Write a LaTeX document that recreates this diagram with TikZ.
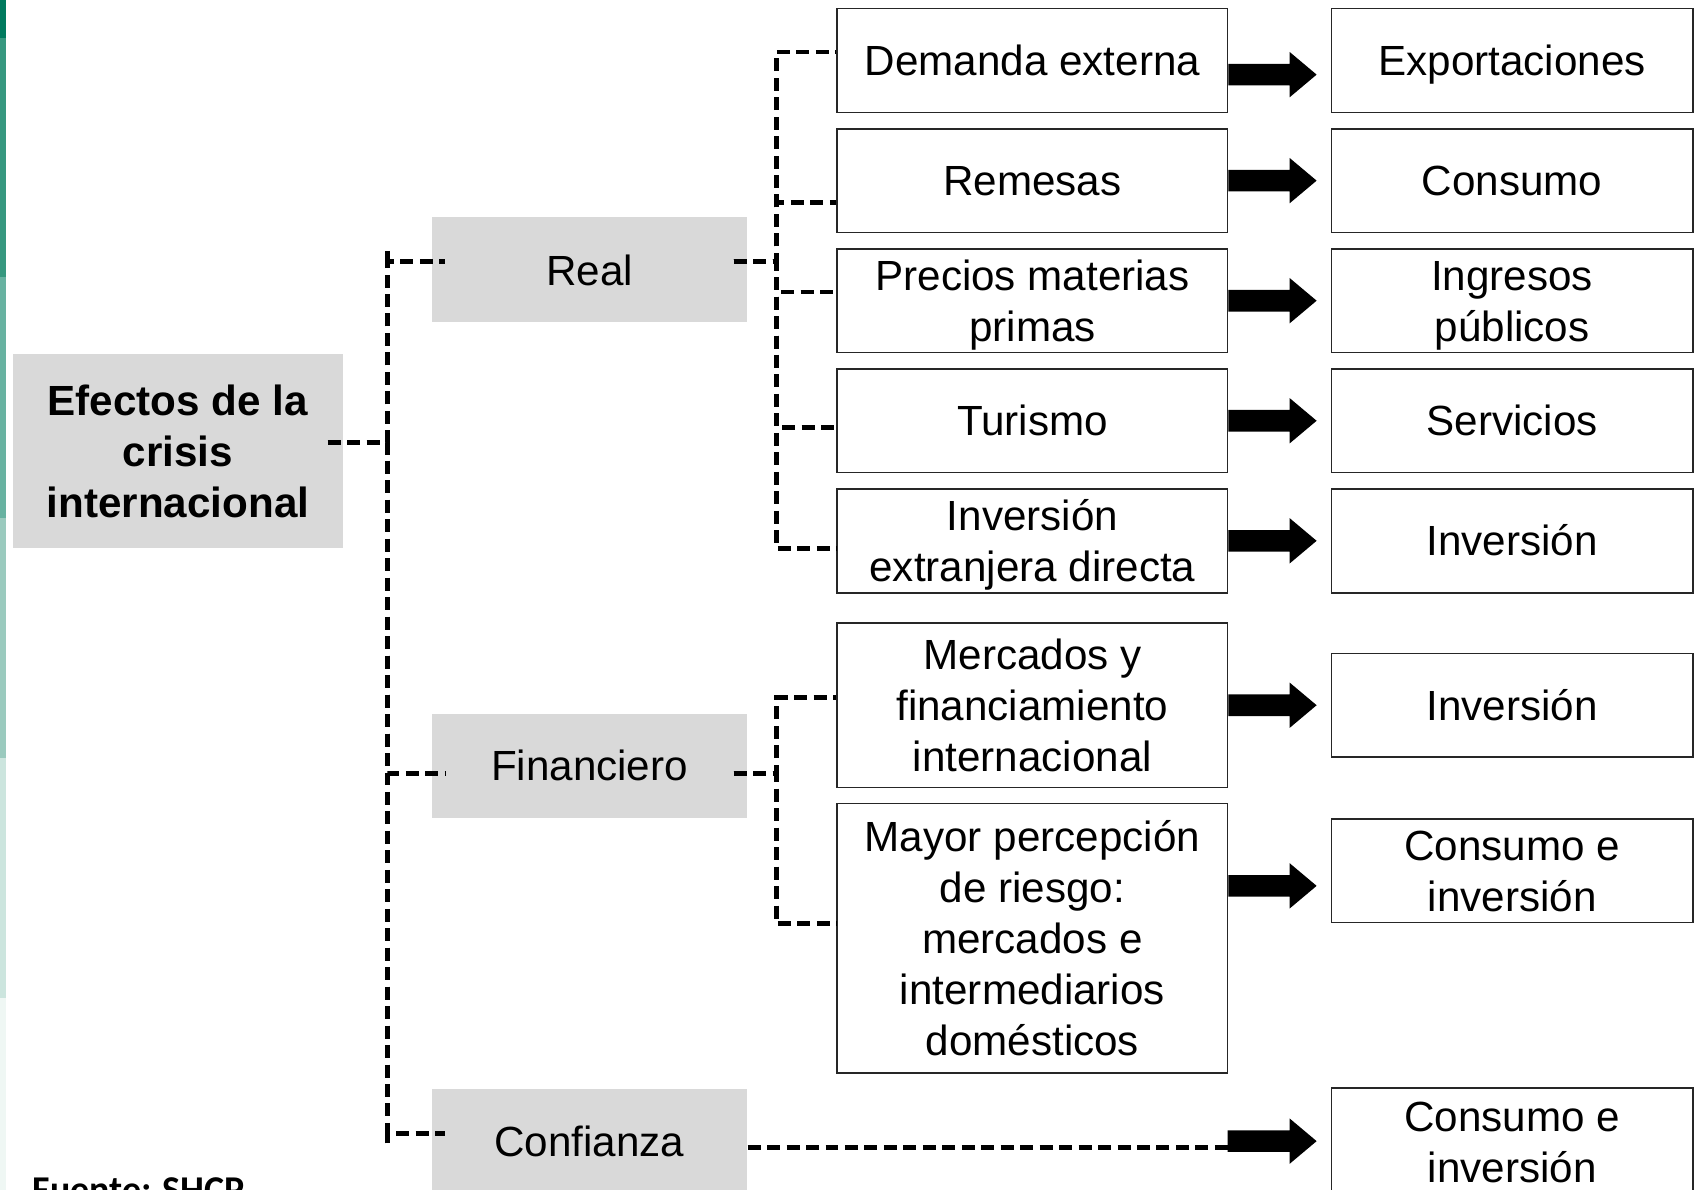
\documentclass[tikz,border=0pt]{standalone}
\usepackage{fontspec}
\setmainfont{Liberation Sans}
\newfontfamily\srcfont{Carlito}
\usetikzlibrary{calc}
\definecolor{boxgray}{HTML}{D9D9D9}
\definecolor{gA}{HTML}{007A5E}
\definecolor{gB}{HTML}{36987F}
\definecolor{gC}{HTML}{67B2A1}
\definecolor{gD}{HTML}{9ACABE}
\definecolor{gE}{HTML}{CCE5DE}
\definecolor{gF}{HTML}{EFF7F4}
\newcommand\mainfs{\fontsize{39}{47}\selectfont}
\newcommand\blockarr[2]{\fill ($(#1)+(0,-10)$) -- ($(#2)+(-25,-10)$) -- ($(#2)+(-25,-21)$) -- (#2) -- ($(#2)+(-25,21)$) -- ($(#2)+(-25,10)$) -- ($(#1)+(0,10)$) -- cycle;}
\tikzset{
  gbox/.style={fill=boxgray, inner sep=0pt, minimum width=292pt, minimum height=97pt, align=center, text height=28pt, text depth=0pt, font=\mainfs},
  wbox/.style={draw=black!85, line width=1.5pt, fill=white, inner sep=0pt, align=center, text height=28pt, text depth=0pt, font=\mainfs},
  midbox/.style={wbox, minimum width=361pt},
  rbox/.style={wbox, minimum width=334pt},
  twol/.style={text height=75pt},
  threel/.style={text height=122pt},
  fivel/.style={text height=216pt},
  conn/.style={line width=4.2pt, dash pattern=on 12pt off 6pt},
}
\begin{document}
\begin{tikzpicture}[x=1pt,y=-1pt]
\useasboundingbox (0,0) rectangle (1568,1100);
\fill[white] (0,0) rectangle (1568,1100);
% green side bar
\fill[gA] (0,0) rectangle (5.5,35);
\fill[gB] (0,35) rectangle (5.5,256);
\fill[gC] (0,256) rectangle (5.5,479);
\fill[gD] (0,479) rectangle (5.5,701);
\fill[gE] (0,701) rectangle (5.5,923);
\fill[gF] (0,923) rectangle (5.5,1100);

% level 0
\node[gbox, threel, minimum width=305pt, minimum height=180pt, font=\mainfs\bfseries] (main) at (164.5,417) {Efectos de la\\crisis\\internacional};
% level 1
\node[gbox] (real) at (545,249.5) {Real};
\node[gbox, minimum height=96pt] (fin) at (545,708) {Financiero};
\node[gbox, minimum height=96pt] (conf) at (545,1055) {Confianza};
% level 2
\node[midbox, minimum height=96pt] (dem) at (954.5,56) {Demanda externa};
\node[midbox, minimum height=96pt] (rem) at (954.5,167) {Remesas};
\node[midbox, twol, minimum height=96pt] (pre) at (954.5,278) {Precios materias\\primas};
\node[midbox, minimum height=96pt] (tur) at (954.5,389) {Turismo};
\node[midbox, twol, minimum height=96pt] (ied) at (954.5,500) {Inversión\\extranjera directa};
\node[midbox, threel, minimum height=152pt] (mer) at (954.5,652) {Mercados y\\financiamiento\\internacional};
\node[midbox, fivel, minimum height=249pt] (may) at (954.5,867.5) {Mayor percepción\\de riesgo:\\mercados e\\intermediarios\\domésticos};
% level 3
\node[rbox, minimum height=96pt] (exp) at (1398,56) {Exportaciones};
\node[rbox, minimum height=96pt] (con) at (1398,167) {Consumo};
\node[rbox, twol, minimum height=96pt] (ing) at (1398,278) {Ingresos\\públicos};
\node[rbox, minimum height=96pt] (ser) at (1398,389) {Servicios};
\node[rbox, minimum height=96pt] (inv) at (1398,500) {Inversión};
\node[rbox, minimum height=96pt] (invb) at (1398,652) {Inversión};
\node[rbox, twol, minimum height=96pt] (cei) at (1398,805) {Consumo e\\inversión};
\node[rbox, twol, minimum height=100pt] (ceib) at (1398,1056) {Consumo e\\inversión};

% source note
\node[anchor=base west, inner sep=0pt, font=\srcfont\bfseries\fontsize{35}{42}\selectfont] (src) at (30,1112) {Fuente: SHCP};

% dashed connectors, level 1
\coordinate (L1) at (358,409);
\coordinate (yR) at (0,242);
\coordinate (yF) at (0,715);
\coordinate (yC) at (0,1048);
\coordinate (L1top) at (358,232);
\coordinate (L1bot) at (358,1057);
\draw[conn] ([xshift=-14pt]main.east |- L1) -- (L1) |- ([xshift=13pt]real.west |- yR);
\draw[conn] ([xshift=-14pt]main.east |- L1) -- (L1) |- ([xshift=13pt]fin.west |- yF);
\draw[conn] ([xshift=-14pt]main.east |- L1) -- (L1) |- ([xshift=13pt]conf.west |- yC);
\draw[line width=4.2pt] (L1top) -- (L1top |- yR);
\draw[line width=4.2pt] (L1bot) -- (L1bot |- yC);

% level 2, Real
\coordinate (L2r) at (718,242);
\coordinate (yd1) at (0,48);
\coordinate (yd2) at (0,187);
\coordinate (yd3) at (0,270);
\coordinate (yd4) at (0,395);
\coordinate (yd5) at (0,507);
\draw[conn] ([xshift=-13pt]real.east |- L2r) -- (L2r) |- (dem.west |- yd1);
\draw[conn] ([xshift=-13pt]real.east |- L2r) -- (L2r) |- (rem.west |- yd2);
\draw[conn] ([xshift=-13pt]real.east |- L2r) -- (L2r) |- (pre.west |- yd3);
\draw[conn] ([xshift=-13pt]real.east |- L2r) -- (L2r) |- (tur.west |- yd4);
\draw[conn] ([xshift=-13pt]real.east |- L2r) -- (L2r) |- (ied.west |- yd5);

% level 2, Financiero
\coordinate (L2f) at (718,715);
\coordinate (yf1) at (0,645);
\coordinate (yf2) at (0,854);
\draw[conn] ([xshift=-13pt]fin.east |- L2f) -- (L2f) |- (mer.west |- yf1);
\draw[conn] ([xshift=-13pt]fin.east |- L2f) -- (L2f) |- (may.west |- yf2);

% Confianza
\coordinate (ycd) at (0,1061);
\coordinate (cjd) at (1135,1061);
\draw[conn] (conf.east |- ycd) -- (cjd);

% block arrows
\coordinate (a1s) at ([yshift=-13pt]dem.east);
\coordinate (a1t) at ([xshift=-13pt,yshift=-13pt]exp.west);
\coordinate (a2s) at (rem.east);
\coordinate (a2t) at ([xshift=-13pt]con.west);
\coordinate (a3s) at (pre.east);
\coordinate (a3t) at ([xshift=-13pt]ing.west);
\coordinate (a4s) at (tur.east);
\coordinate (a4t) at ([xshift=-13pt]ser.west);
\coordinate (a5s) at (ied.east);
\coordinate (a5t) at ([xshift=-13pt]inv.west);
\coordinate (a6s) at (mer.east);
\coordinate (a6t) at ([xshift=-13pt]invb.west);
\coordinate (ya7) at (0,819);
\coordinate (a7s) at (may.east |- ya7);
\coordinate (a7t) at ([xshift=-13pt]cei.west |- ya7);
\coordinate (ya8) at (0,1055);
\coordinate (a8s) at (cjd |- ya8);
\coordinate (a8t) at ([xshift=-13pt]ceib.west |- ya8);
\blockarr{a1s}{a1t}
\blockarr{a2s}{a2t}
\blockarr{a3s}{a3t}
\blockarr{a4s}{a4t}
\blockarr{a5s}{a5t}
\blockarr{a6s}{a6t}
\blockarr{a7s}{a7t}
\blockarr{a8s}{a8t}
\end{tikzpicture}
\end{document}
